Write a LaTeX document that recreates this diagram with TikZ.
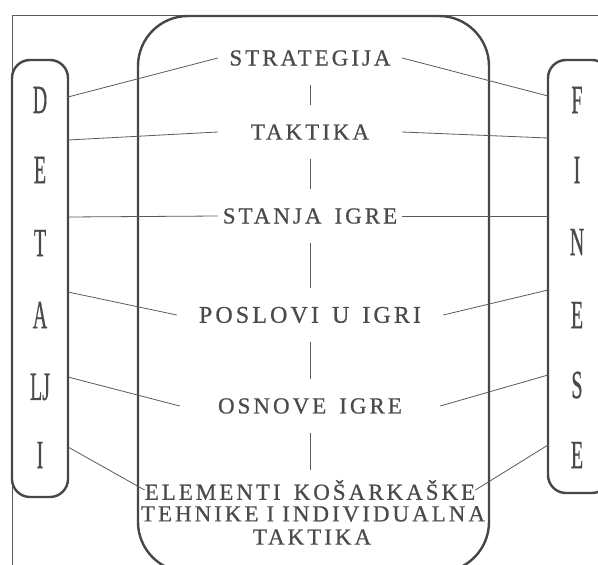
\documentclass[tikz,border=0pt]{standalone}
\usepackage{fontspec}
\setmainfont{Liberation Serif}
\newfontfamily\spacedfont[LetterSpace=13,FakeBold=0.6]{Liberation Serif}
\newfontfamily\sidefont[FakeBold=0.8]{Liberation Serif}
\definecolor{boxgray}{HTML}{474747}
\definecolor{txtgray}{HTML}{4A4A4A}
\definecolor{linegray}{HTML}{5A5A5A}
\newcommand*{\sidelet}[1]{\scalebox{0.5}[1]{\sidefont\fontsize{40}{40}\selectfont #1}}
\newcommand*{\wsp}{\hspace{13pt}}
\newcommand*{\nsp}{\hspace{8pt}}

\begin{document}
\begin{tikzpicture}[x=1pt,y=-1pt,
    bigbox/.style={draw=boxgray,line width=2.4pt,rounded corners=#1},
    level/.style={font=\spacedfont\fontsize{23}{23}\selectfont,text=txtgray,inner sep=4pt,minimum width=#1},
    sidel/.style={text=txtgray,inner sep=0pt},
    link/.style={draw=linegray,line width=0.8pt},
    divider/.style={link,shorten <=15pt,shorten >=15pt}]
\clip (0,0) rectangle (598,565);
\fill[white] (0,0) rectangle (598,565);
% frame and boxes
\draw[linegray,line width=0.8pt] (12,565) -- (12,15) -- (598,15);
\draw[bigbox=50pt] (138,16) rectangle (489,572);
\draw[bigbox=18pt] (12,60) rectangle (68,497);
\draw[bigbox=18pt] (548,60) rectangle (610,493);
% side words
\foreach \l/\y [count=\i] in {D/100,E/170,T/243,A/315,LJ/387,I/455}
    \node[sidel] (d\i) at (40,\y) {\sidelet{\l}};
\foreach \l/\y [count=\i] in {F/100,I/170,N/242,E/315,S/385,E/455}
    \node[sidel] (f\i) at (577,\y) {\sidelet{\l}};
% levels
\node[level=184pt] (strat) at (310,58) {STRATEGIJA};
\node[level=184pt] (takt) at (310,132) {TAKTIKA};
\node[level=184pt] (stanja) at (310,216) {STANJA\wsp IGRE};
\node[level=266pt,font=\spacedfont\fontsize{24}{24}\selectfont] (poslovi) at (310,315) {POSLOVI\wsp U\wsp IGRI};
\node[level=260pt] (osnove) at (310,406) {OSNOVE\wsp IGRE};
\node[level=330pt,inner sep=0pt] (elem1) at (310,490) {ELEMENTI\wsp KOŠARKAŠKE};
\node[level=330pt,inner sep=0pt] (elem2) at (313,514) {TEHNIKE\nsp I\nsp INDIVIDUALNA};
\node[level=110pt,inner sep=0pt] (elem3) at (312,537) {TAKTIKA};
\draw[divider] (strat) -- (takt);
\draw[divider] (takt) -- (stanja);
\draw[divider] (stanja) -- (poslovi);
\draw[divider] (poslovi) -- (osnove);
\draw[divider,shorten >=10pt] (osnove) -- (elem1);
% links to the side boxes
\coordinate (l1) at (68,97);  \coordinate (r1) at (548,96);
\coordinate (l2) at (68,140); \coordinate (r2) at (548,138);
\coordinate (l3) at (68,217); \coordinate (r3) at (548,216);
\coordinate (l4) at (68,292); \coordinate (r4) at (548,290);
\coordinate (l5) at (68,377); \coordinate (r5) at (548,375);
\coordinate (l6) at (68,447); \coordinate (r6) at (548,445);
\foreach \n [count=\i] in {strat,takt,stanja,poslovi,osnove,elem1}{
    \draw[link] (\n.west) -- (l\i);
    \draw[link] (\n.east) -- (r\i);
}
\end{tikzpicture}
\end{document}
